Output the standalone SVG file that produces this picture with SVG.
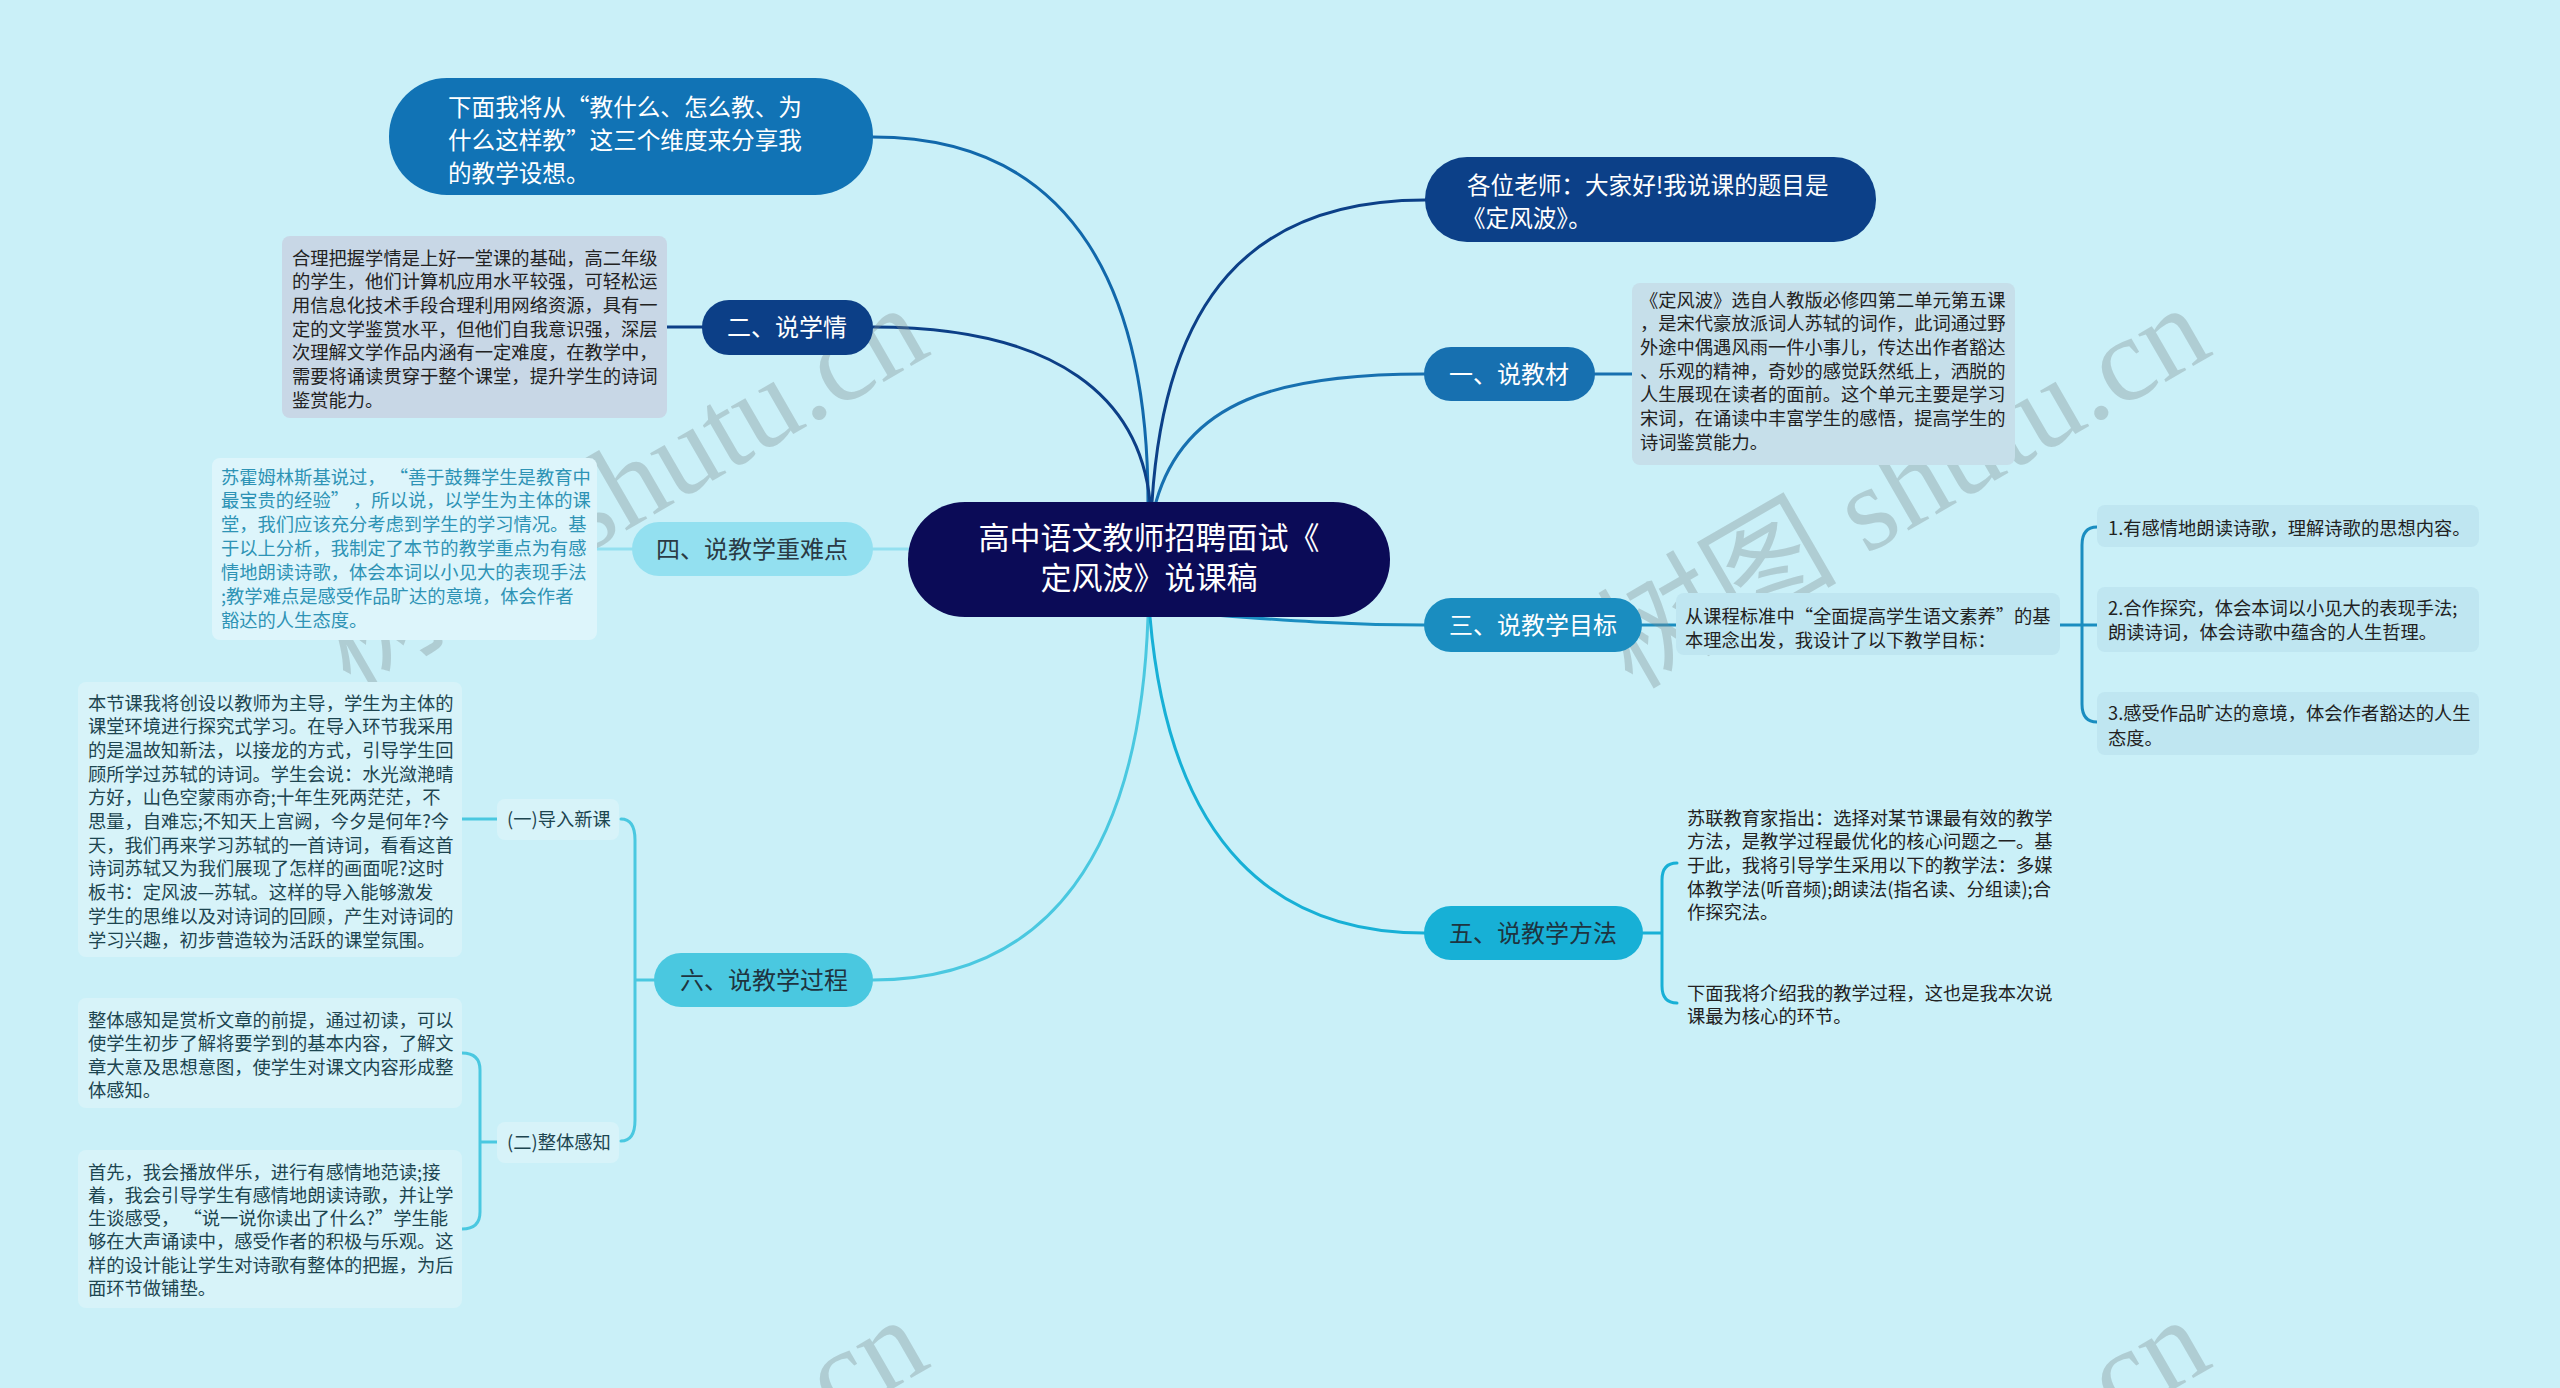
<svg xmlns="http://www.w3.org/2000/svg" width="2560" height="1388" viewBox="0 0 2560 1388">
<defs>
<style>
text{font-family:"Noto Sans CJK SC","Noto Sans",sans-serif;}
.t18{font-size:18.3px;}
.t24{font-size:24px;}
.t25{font-size:23.6px;fill:#fff;}
.w{fill:#fff;}
.dk{fill:#222;}
.dt{fill:#1d4550;}
.ln{fill:none;stroke-width:3;stroke-linecap:round;}
.wm{font-family:"Liberation Serif","Noto Sans CJK SC",serif;font-size:120px;fill:#7f8c8f;fill-opacity:0.35;}
</style>
</defs>
<rect width="2560" height="1388" fill="#caf0f8"/>

<g id="connectors">
<path class="ln" stroke="#1168ab" d="M873,137 C1080,137 1148,300 1148,502"/>
<path class="ln" stroke="#0c3f87" d="M873,327 C1060,327 1140,400 1150,502"/>
<path class="ln" stroke="#0c4088" d="M1152,502 C1165,300 1250,200 1425,200"/>
<path class="ln" stroke="#1770b0" d="M1156,502 C1185,400 1280,374 1424,374"/>
<path class="ln" stroke="#1a8dc0" d="M1150,610 C1300,622 1350,625 1424,625"/>
<path class="ln" stroke="#93e0f0" d="M873,549 L908,549"/>
<path class="ln" stroke="#4ac8e0" d="M1148,617 C1140,850 1050,980 873,980"/>
<path class="ln" stroke="#17b0d6" d="M1150,617 C1170,850 1280,933 1424,933"/>
<path class="ln" stroke="#0c3f87" d="M667,327 L702,327"/>
<path class="ln" stroke="#1770b0" d="M1595,374 L1632,374"/>
<path class="ln" stroke="#93e0f0" d="M597,549 L632,549"/>
<path class="ln" stroke="#1a8dc0" d="M1642,625 L1676,625"/>
<path class="ln" stroke="#1a8dc0" d="M2060,625 L2097,625 M2097,527 Q2082,527 2082,545 L2082,704 Q2082,722 2097,722"/>
<path class="ln" stroke="#17b0d6" d="M1643,933 L1662,933 M1677,863 Q1662,863 1662,880 L1662,986 Q1662,1003 1677,1003"/>
<path class="ln" stroke="#4ac8e0" d="M635,980 L654,980 M621,819 Q635,819 635,840 L635,1120 Q635,1141 621,1141"/>
<path class="ln" stroke="#4ac8e0" d="M462,819 L497,819"/>
<path class="ln" stroke="#4ac8e0" d="M480,1142 L497,1142 M462,1053 Q480,1053 480,1070 L480,1212 Q480,1229 462,1229"/>
</g>

<g id="watermarks">
<text class="wm" transform="translate(350,690) rotate(-30)">树图 shutu.cn</text>
<text class="wm" transform="translate(1632,690) rotate(-30)">树图 shutu.cn</text>
<text class="wm" transform="translate(350,1702) rotate(-30)">树图 shutu.cn</text>
<text class="wm" transform="translate(1632,1702) rotate(-30)">树图 shutu.cn</text>
</g>

<g id="root">
<rect x="908" y="502" width="482" height="115" rx="57" fill="#0b0b57"/>
<text x="1149" y="549" text-anchor="middle" font-size="31" class="w">高中语文教师招聘面试《</text>
<text x="1149" y="589" text-anchor="middle" font-size="31" class="w">定风波》说课稿</text>
</g>

<g id="intro">
<rect x="389" y="78" width="484" height="117" rx="58" fill="#1173b5"/>
<text class="t25" x="448" y="116">下面我将从“教什么、怎么教、为</text>
<text class="t25" x="448" y="149">什么这样教”这三个维度来分享我</text>
<text class="t25" x="448" y="182">的教学设想。</text>
</g>

<g id="greeting">
<rect x="1425" y="157" width="451" height="85" rx="42" fill="#0c4088"/>
<text class="t25" x="1467" y="194">各位老师：大家好!我说课的题目是</text>
<text class="t25" x="1462" y="227">《定风波》。</text>
</g>

<g id="n2">
<rect x="702" y="300" width="171" height="55" rx="27" fill="#0c3f87"/>
<text class="t24 w" x="787" y="336" text-anchor="middle">二、说学情</text>
</g>
<g id="n2-text">
<rect x="282" y="236" width="385" height="182" rx="8" fill="#c8d7e6"/>
<text class="t18 dk" x="292">
<tspan x="292" y="264.5">合理把握学情是上好一堂课的基础，高二年级</tspan>
<tspan x="292" y="288.2">的学生，他们计算机应用水平较强，可轻松运</tspan>
<tspan x="292" y="311.9">用信息化技术手段合理利用网络资源，具有一</tspan>
<tspan x="292" y="335.6">定的文学鉴赏水平，但他们自我意识强，深层</tspan>
<tspan x="292" y="359.3">次理解文学作品内涵有一定难度，在教学中，</tspan>
<tspan x="292" y="383">需要将诵读贯穿于整个课堂，提升学生的诗词</tspan>
<tspan x="292" y="406.7">鉴赏能力。</tspan>
</text>
</g>

<g id="n1">
<rect x="1424" y="347" width="171" height="54" rx="27" fill="#1770b0"/>
<text class="t24 w" x="1509" y="383" text-anchor="middle">一、说教材</text>
</g>
<g id="n1-text">
<rect x="1632" y="283" width="383" height="182" rx="8" fill="#c6dfea"/>
<text class="t18 dk">
<tspan x="1640" y="306.5">《定风波》选自人教版必修四第二单元第五课</tspan>
<tspan x="1640" y="330.2">，是宋代豪放派词人苏轼的词作，此词通过野</tspan>
<tspan x="1640" y="353.9">外途中偶遇风雨一件小事儿，传达出作者豁达</tspan>
<tspan x="1640" y="377.6">、乐观的精神，奇妙的感觉跃然纸上，洒脱的</tspan>
<tspan x="1640" y="401.3">人生展现在读者的面前。这个单元主要是学习</tspan>
<tspan x="1640" y="425">宋词，在诵读中丰富学生的感悟，提高学生的</tspan>
<tspan x="1640" y="448.7">诗词鉴赏能力。</tspan>
</text>
</g>

<g id="n3">
<rect x="1424" y="598" width="218" height="54" rx="27" fill="#1a8dc0"/>
<text class="t24 w" x="1533" y="634" text-anchor="middle">三、说教学目标</text>
</g>
<g id="n3-text">
<rect x="1676" y="593" width="384" height="62" rx="8" fill="#bfe6f1"/>
<text class="t18 dk"><tspan x="1685" y="623">从课程标准中“全面提高学生语文素养”的基</tspan><tspan x="1685" y="646.5">本理念出发，我设计了以下教学目标：</tspan></text>
</g>
<g id="n3-c1">
<rect x="2097" y="505" width="382" height="42" rx="8" fill="#bfe6f1"/>
<text class="t18 dk" x="2108" y="534.5">1.有感情地朗读诗歌，理解诗歌的思想内容。</text>
</g>
<g id="n3-c2">
<rect x="2097" y="587" width="382" height="65" rx="8" fill="#bfe6f1"/>
<text class="t18 dk"><tspan x="2108" y="614.5">2.合作探究，体会本词以小见大的表现手法;</tspan><tspan x="2108" y="638.5">朗读诗词，体会诗歌中蕴含的人生哲理。</tspan></text>
</g>
<g id="n3-c3">
<rect x="2097" y="692" width="382" height="63" rx="8" fill="#bfe6f1"/>
<text class="t18 dk"><tspan x="2108" y="719.5">3.感受作品旷达的意境，体会作者豁达的人生</tspan><tspan x="2108" y="744.5">态度。</tspan></text>
</g>

<g id="n4">
<rect x="632" y="522" width="241" height="54" rx="27" fill="#93e0f0"/>
<text class="t24" fill="#2a3a44" x="752" y="558" text-anchor="middle">四、说教学重难点</text>
</g>
<g id="n4-text">
<rect x="212" y="458" width="385" height="182" rx="8" fill="#ddf5fb"/>
<text class="t18" fill="#2e93b5">
<tspan x="221" y="483.5">苏霍姆林斯基说过， “善于鼓舞学生是教育中</tspan>
<tspan x="221" y="507.4">最宝贵的经验” ，所以说，以学生为主体的课</tspan>
<tspan x="221" y="531.3">堂，我们应该充分考虑到学生的学习情况。基</tspan>
<tspan x="221" y="555.2">于以上分析，我制定了本节的教学重点为有感</tspan>
<tspan x="221" y="579.1">情地朗读诗歌，体会本词以小见大的表现手法</tspan>
<tspan x="221" y="603">;教学难点是感受作品旷达的意境，体会作者</tspan>
<tspan x="221" y="626.9">豁达的人生态度。</tspan>
</text>
</g>

<g id="n5">
<rect x="1424" y="906" width="219" height="54" rx="27" fill="#17b0d6"/>
<text class="t24" fill="#1e3440" x="1533" y="942" text-anchor="middle">五、说教学方法</text>
</g>
<g id="n5-c1">
<text class="t18 dk">
<tspan x="1687" y="824.5">苏联教育家指出：选择对某节课最有效的教学</tspan>
<tspan x="1687" y="848.2">方法，是教学过程最优化的核心问题之一。基</tspan>
<tspan x="1687" y="871.9">于此，我将引导学生采用以下的教学法：多媒</tspan>
<tspan x="1687" y="895.6">体教学法(听音频);朗读法(指名读、分组读);合</tspan>
<tspan x="1687" y="919.3">作探究法。</tspan>
</text>
</g>
<g id="n5-c2">
<text class="t18 dk"><tspan x="1687" y="999.5">下面我将介绍我的教学过程，这也是我本次说</tspan><tspan x="1687" y="1023.2">课最为核心的环节。</tspan></text>
</g>

<g id="n6">
<rect x="654" y="953" width="219" height="54" rx="27" fill="#4ac8e0"/>
<text class="t24" fill="#1e3440" x="764" y="989" text-anchor="middle">六、说教学过程</text>
</g>
<g id="n6-a">
<rect x="497" y="799" width="122" height="41" rx="8" fill="#d7f3f9"/>
<text class="t18 dt" x="507" y="825.5">(一)导入新课</text>
</g>
<g id="n6-a-text">
<rect x="78" y="682" width="384" height="275" rx="8" fill="#d7f3f9"/>
<text class="t18 dt">
<tspan x="88" y="709.5">本节课我将创设以教师为主导，学生为主体的</tspan>
<tspan x="88" y="733.2">课堂环境进行探究式学习。在导入环节我采用</tspan>
<tspan x="88" y="756.9">的是温故知新法，以接龙的方式，引导学生回</tspan>
<tspan x="88" y="780.6">顾所学过苏轼的诗词。学生会说：水光潋滟晴</tspan>
<tspan x="88" y="804.3">方好，山色空蒙雨亦奇;十年生死两茫茫，不</tspan>
<tspan x="88" y="828">思量，自难忘;不知天上宫阙，今夕是何年?今</tspan>
<tspan x="88" y="851.7">天，我们再来学习苏轼的一首诗词，看看这首</tspan>
<tspan x="88" y="875.4">诗词苏轼又为我们展现了怎样的画面呢?这时</tspan>
<tspan x="88" y="899.1">板书：定风波—苏轼。这样的导入能够激发</tspan>
<tspan x="88" y="922.8">学生的思维以及对诗词的回顾，产生对诗词的</tspan>
<tspan x="88" y="946.5">学习兴趣，初步营造较为活跃的课堂氛围。</tspan>
</text>
</g>
<g id="n6-b">
<rect x="497" y="1122" width="122" height="41" rx="8" fill="#d7f3f9"/>
<text class="t18 dt" x="507" y="1148.5">(二)整体感知</text>
</g>
<g id="n6-b1">
<rect x="78" y="998" width="384" height="110" rx="8" fill="#d7f3f9"/>
<text class="t18 dt">
<tspan x="88" y="1026.5">整体感知是赏析文章的前提，通过初读，可以</tspan>
<tspan x="88" y="1050">使学生初步了解将要学到的基本内容，了解文</tspan>
<tspan x="88" y="1073.5">章大意及思想意图，使学生对课文内容形成整</tspan>
<tspan x="88" y="1097">体感知。</tspan>
</text>
</g>
<g id="n6-b2">
<rect x="78" y="1150" width="384" height="158" rx="8" fill="#d7f3f9"/>
<text class="t18 dt">
<tspan x="88" y="1178.5">首先，我会播放伴乐，进行有感情地范读;接</tspan>
<tspan x="88" y="1201.8">着，我会引导学生有感情地朗读诗歌，并让学</tspan>
<tspan x="88" y="1225.1">生谈感受， “说一说你读出了什么?”学生能</tspan>
<tspan x="88" y="1248.4">够在大声诵读中，感受作者的积极与乐观。这</tspan>
<tspan x="88" y="1271.7">样的设计能让学生对诗歌有整体的把握，为后</tspan>
<tspan x="88" y="1295">面环节做铺垫。</tspan>
</text>
</g>
</svg>
